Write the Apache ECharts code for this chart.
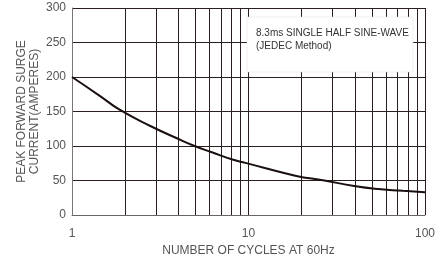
<!DOCTYPE html>
<html>
<head>
<meta charset="utf-8">
<script src="https://cdn.jsdelivr.net/npm/echarts@6/dist/echarts.min.js"></script>
<style>html,body{margin:0;padding:0;background:#fff}#c{width:444px;height:264px}</style>
</head>
<body>
<div id="c"></div>
<script>
var cycles = [1, 1.45, 1.85, 2.78, 3.87, 4.95, 6.2, 8.2, 9.6, 18.4, 26.9, 39.7, 52, 75, 100];
var current = [200, 172, 153, 129, 112, 100, 91, 80, 75.5, 57, 50, 42, 38, 35, 33];
var minorGrid = [2, 3, 4, 5, 6, 7, 8, 9, 20, 30, 40, 50, 60, 70, 80, 90];
var noteLines = ['8.3ms SINGLE HALF SINE-WAVE', '(JEDEC Method)'];

var grid = '#2a1e1e';
var chart = echarts.init(document.getElementById('c'));
chart.setOption({
  animation: false,
  grid: { left: 72, right: 19, top: 8, bottom: 49 },
  xAxis: {
    type: 'log', logBase: 10, min: 1, max: 100,
    name: 'NUMBER OF CYCLES AT 60Hz', nameLocation: 'middle', nameGap: 30, nameMoveOverlap: false,
    nameTextStyle: { fontFamily: 'Liberation Sans', fontSize: 12, color: '#555', verticalAlign: 'top' },
    axisLine: { show: true, lineStyle: { color: '#666', width: 1 } },
    axisTick: { show: false },
    axisLabel: { fontFamily: 'Liberation Sans', fontSize: 12, color: '#555', margin: 13 },
    splitLine: { show: true, lineStyle: { color: grid, width: 1 } }
  },
  yAxis: {
    type: 'value', min: 0, max: 300, interval: 50,
    name: 'PEAK FORWARD SURGE\nCURRENT(AMPERES)', nameLocation: 'middle', nameGap: 31, nameMoveOverlap: false,
    nameTextStyle: { fontFamily: 'Liberation Sans', fontSize: 12, color: '#555', lineHeight: 13 },
    axisLine: { show: true, lineStyle: { color: '#777', width: 1 } },
    axisTick: { show: false },
    axisLabel: { fontFamily: 'Liberation Sans', fontSize: 12, color: '#555', margin: 6 },
    splitLine: { show: true, lineStyle: { color: grid, width: 1 } }
  },
  graphic: [
    { type: 'rect', shape: { x: 247, y: 17, width: 166, height: 55 }, style: { fill: '#fff', stroke: '#ddd', lineWidth: 0.5 }, z: 100 },
    { type: 'text', x: 256, y: 27, style: { text: noteLines.join('\n'), font: '10px "Liberation Sans"', fill: '#333', lineHeight: 13 }, z: 101 }
  ],
  series: [
    {
      type: 'line', data: cycles.map(function (c, i) { return [c, current[i]]; }),
      smooth: 0.5, showSymbol: false, symbol: 'none',
      lineStyle: { color: '#1a0f0f', width: 2 }, z: 5,
      markLine: {
        silent: true, symbol: 'none', label: { show: false },
        lineStyle: { color: grid, width: 1, type: 'solid' },
        data: minorGrid.map(function (v) { return { xAxis: v }; })
      }
    }
  ]
});
</script>
</body>
</html>
